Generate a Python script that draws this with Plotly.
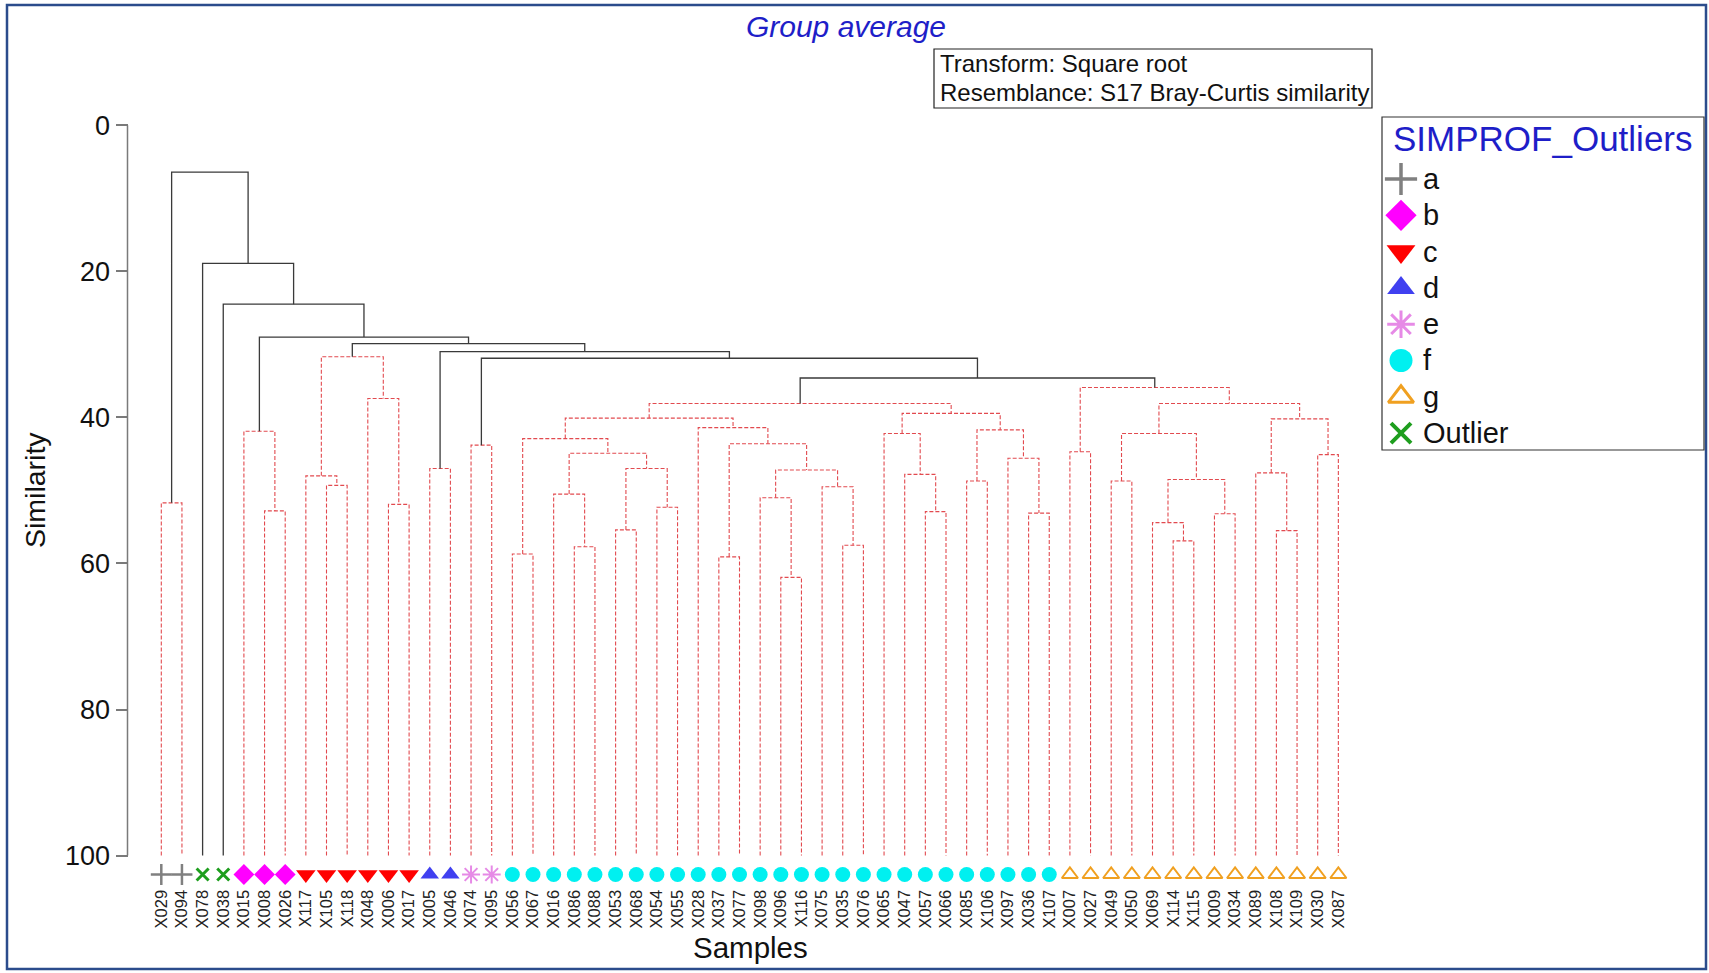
import plotly.graph_objects as go

# ---------------- data ----------------
sample_order = ["X029", "X094", "X078", "X038", "X015", "X008", "X026", "X117", "X105", "X118",
                "X048", "X006", "X017", "X005", "X046", "X074", "X095", "X056", "X067", "X016",
                "X086", "X088", "X053", "X068", "X054", "X055", "X028", "X037", "X077", "X098",
                "X096", "X116", "X075", "X035", "X076", "X065", "X047", "X057", "X066", "X085",
                "X106", "X097", "X036", "X107", "X007", "X027", "X049", "X050", "X069", "X114",
                "X115", "X009", "X034", "X089", "X108", "X109", "X030", "X087"]

sample_group = ["a", "a", "Outlier", "Outlier", "b", "b", "b", "c", "c", "c",
                "c", "c", "c", "d", "d", "e", "e", "f", "f", "f",
                "f", "f", "f", "f", "f", "f", "f", "f", "f", "f",
                "f", "f", "f", "f", "f", "f", "f", "f", "f", "f",
                "f", "f", "f", "f", "g", "g", "g", "g", "g", "g",
                "g", "g", "g", "g", "g", "g", "g", "g"]

# merges (agglomeration order); "mN" refers to merge N
merge_a = ["X029", "X008", "X015", "X105", "X117", "X006", "X048", "m4", "X005", "X074",
           "X056", "X086", "X016", "X053", "X054", "m13", "m12", "m10", "X037", "X096",
           "X098", "X035", "X075", "m20", "m18", "X028", "m17", "X057", "X047", "X065",
           "X085", "X036", "X097", "m30", "m29", "m26", "X007", "X049", "X114", "X069",
           "X009", "m39", "m37", "X108", "X089", "X030", "m44", "m42", "m36", "m35",
           "m9", "m8", "m7", "m2", "X038", "X078", "m0"]
merge_b = ["X094", "X026", "m1", "X118", "m3", "X017", "m5", "m6", "X046", "X095",
           "X067", "X088", "m11", "X068", "X055", "m14", "m15", "m16", "X077", "X116",
           "m19", "X076", "m21", "m22", "m23", "m24", "m25", "X066", "m27", "m28",
           "X106", "X107", "m31", "m32", "m33", "m34", "X027", "X050", "X115", "m38",
           "X034", "m40", "m41", "X109", "m43", "X087", "m45", "m46", "m47", "m48",
           "m49", "m50", "m51", "m52", "m53", "m54", "m55"]
merge_similarity = [51.7, 52.8, 41.9, 49.3, 48.0, 51.9, 37.4, 31.7, 47.0, 43.8,
                    58.7, 57.7, 50.5, 55.4, 52.3, 47.0, 44.9, 42.9, 59.1, 61.9,
                    51.0, 57.5, 49.5, 47.2, 43.6, 41.4, 40.1, 52.9, 47.8, 42.2,
                    48.7, 53.1, 45.6, 41.7, 39.45, 38.1, 44.7, 48.7, 56.9, 54.4,
                    53.2, 48.5, 42.2, 55.5, 47.6, 45.1, 40.2, 38.1, 35.9, 34.6,
                    31.9, 31.0, 29.9, 29.0, 24.5, 18.9, 6.4]
# SIMPROF significant splits (solid black) vs. non-significant (red dashed)
merge_significant = [False] * 49 + [True] * 8

legend_groups = ["a", "b", "c", "d", "e", "f", "g", "Outlier"]
y_ticks = [0, 20, 40, 60, 80, 100]

# ---------------- styles / layout geometry ----------------
group_style = {
    "a": dict(symbol="cross-thin", color="#808080", size=15, lw=2.5),
    "b": dict(symbol="diamond", color="#FF00FF", size=16, lw=0),
    "c": dict(symbol="triangle-down", color="#FF0000", size=17, lw=0),
    "d": dict(symbol="triangle-up", color="#4040F0", size=16, lw=0),
    "e": dict(symbol="asterisk-open", color="#E68AE6", size=15, lw=2),
    "f": dict(symbol="circle", color="#00F0F0", size=15, lw=0),
    "g": dict(symbol="triangle-up-open", color="#F0A020", size=14, lw=2),
    "Outlier": dict(symbol="x-thin", color="#1E9E1E", size=12, lw=3),
}

W, H = 1709, 973
AXIS_PX = 127.5          # y-axis line position
Y0_PX, Y100_PX = 125.3, 855.6
LEAF0_PX, LEAF_STEP = 161.3, 20.65
FONT = "Liberation Sans, Arial, sans-serif"


def px2x(px):
    return (px - LEAF0_PX) / LEAF_STEP


def py2y(py):
    return (py - Y0_PX) / (Y100_PX - Y0_PX) * 100.0


def ppx(px):
    return px / W


def ppy(py):
    return 1.0 - py / H


# ---------------- dendrogram geometry ----------------
pos = {name: (float(i), 100.0) for i, name in enumerate(sample_order)}
seg = {True: ([], []), False: ([], [])}
for k, (ca, cb, h, sig) in enumerate(zip(merge_a, merge_b, merge_similarity, merge_significant)):
    xa, ha = pos[ca]
    xb, hb = pos[cb]
    xs, ys = seg[sig]
    xs += [xa, xa, xb, xb, None]
    ys += [ha, h, h, hb, None]
    pos["m%d" % k] = ((xa + xb) / 2.0, h)

fig = go.Figure()
fig.add_trace(go.Scatter(x=seg[False][0], y=seg[False][1], mode="lines",
                         line=dict(color="#E24A4F", width=1.1, dash="4px,2px"),
                         hoverinfo="skip", showlegend=False))
fig.add_trace(go.Scatter(x=seg[True][0], y=seg[True][1], mode="lines",
                         line=dict(color="#3A3A3A", width=1.3),
                         hoverinfo="skip", showlegend=False))

# leaf markers
MARKER_ROW = py2y(874.5)
for g in legend_groups:
    st = group_style[g]
    idx = [i for i, gg in enumerate(sample_group) if gg == g]
    fig.add_trace(go.Scatter(
        x=idx, y=[MARKER_ROW] * len(idx), mode="markers", cliponaxis=False,
        marker=dict(symbol=st["symbol"], size=st["size"], color=st["color"],
                    line=dict(color=st["color"], width=st["lw"])),
        name=g, showlegend=False, hoverinfo="skip"))

# manual legend markers
LEG_Y0, LEG_DY = 179.0, 36.3
for k, g in enumerate(legend_groups):
    st = group_style[g]
    fig.add_trace(go.Scatter(
        x=[px2x(1401)], y=[py2y(LEG_Y0 + k * LEG_DY)], mode="markers", cliponaxis=False,
        marker=dict(symbol=st["symbol"], size=st["size"] + 8, color=st["color"],
                    line=dict(color=st["color"], width=st["lw"] + (1 if st["lw"] else 0))),
        showlegend=False, hoverinfo="skip"))

annotations = []
for k, g in enumerate(legend_groups):
    annotations.append(dict(x=ppx(1421), y=ppy(LEG_Y0 + k * LEG_DY), xref="paper", yref="paper",
                            text=g, showarrow=False, xanchor="left", yanchor="middle",
                            font=dict(family=FONT, size=29, color="#111111")))
annotations.append(dict(x=ppx(1543), y=ppy(138), xref="paper", yref="paper",
                        text="SIMPROF_Outliers", showarrow=False, xanchor="center", yanchor="middle",
                        font=dict(family=FONT, size=35, color="#1E1EC8")))
annotations.append(dict(x=ppx(938), y=ppy(63.5), xref="paper", yref="paper",
                        text="Transform: Square root", showarrow=False, xanchor="left", yanchor="middle",
                        font=dict(family=FONT, size=24, color="#111111")))
annotations.append(dict(x=ppx(938), y=ppy(93), xref="paper", yref="paper",
                        text="Resemblance: S17 Bray-Curtis similarity", showarrow=False,
                        xanchor="left", yanchor="middle",
                        font=dict(family=FONT, size=24, color="#111111")))
annotations.append(dict(x=ppx(35), y=ppy(490), xref="paper", yref="paper", textangle=-90,
                        text="Similarity", showarrow=False, xanchor="center", yanchor="middle",
                        font=dict(family=FONT, size=28.5, color="#111111")))
annotations.append(dict(x=ppx(750), y=ppy(947), xref="paper", yref="paper",
                        text="Samples", showarrow=False, xanchor="center", yanchor="middle",
                        font=dict(family=FONT, size=29.5, color="#111111")))

shapes = [
    dict(type="rect", xref="paper", yref="paper", x0=ppx(7), x1=ppx(1706), y0=ppy(5), y1=ppy(969),
         line=dict(color="#2B4C8C", width=2.5), fillcolor="rgba(0,0,0,0)", layer="below"),
    dict(type="rect", xref="paper", yref="paper", x0=ppx(934), x1=ppx(1372), y0=ppy(49), y1=ppy(108),
         line=dict(color="#222222", width=1.2), fillcolor="rgba(0,0,0,0)"),
    dict(type="rect", xref="paper", yref="paper", x0=ppx(1382), x1=ppx(1704), y0=ppy(117), y1=ppy(450),
         line=dict(color="#333333", width=1.2), fillcolor="rgba(0,0,0,0)"),
    # y-axis line from 0 to 100
    dict(type="line", xref="paper", yref="y", x0=ppx(AXIS_PX), x1=ppx(AXIS_PX),
         y0=y_ticks[0], y1=y_ticks[-1], line=dict(color="#7A7A7A", width=1.5)),
]

fig.update_layout(
    width=W, height=H,
    margin=dict(l=0, r=0, t=0, b=0, pad=0),
    paper_bgcolor="white", plot_bgcolor="white",
    showlegend=False,
    title=dict(text="<i>Group average</i>", x=846 / W, y=1 - 26 / H, xref="container", yref="container",
               xanchor="center", yanchor="middle",
               font=dict(family=FONT, size=30, color="#1E1EC8")),
    xaxis=dict(range=[px2x(0), px2x(W)], domain=[0, 1], showgrid=False, zeroline=False, showline=False,
               anchor="free", position=ppy(Y100_PX), side="bottom",
               tickmode="array", tickvals=list(range(len(sample_order))), ticktext=sample_order,
               tickangle=-90, ticks="", ticklabelstandoff=30,
               tickfont=dict(family=FONT, size=16.5, color="#222222")),
    yaxis=dict(range=[py2y(H), py2y(0)], domain=[0, 1], showgrid=False, zeroline=False, showline=False,
               anchor="free", position=ppx(AXIS_PX), side="left",
               ticks="outside", ticklen=12, tickwidth=1.5,
               tickcolor="#7A7A7A", tickmode="array", tickvals=y_ticks,
               ticktext=[str(v) for v in y_ticks],
               tickfont=dict(family=FONT, size=27, color="#111111")),
    annotations=annotations,
    shapes=shapes,
)

fig.write_html("out.html")
